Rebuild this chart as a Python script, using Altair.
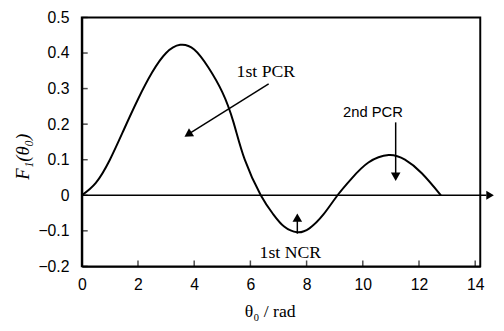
import altair as alt
import pandas as pd

# curve values
theta = [0, 0.5, 1.0, 1.5, 2.0, 2.5, 3.0, 3.5, 4.0, 4.5, 5.0, 5.4, 5.8, 6.37,
         6.8, 7.2, 7.67, 8.1, 8.6, 9.1, 9.6, 10.2, 10.92, 11.5, 12.1, 12.78]
F1 = [0, 0.035, 0.10, 0.185, 0.27, 0.345, 0.40, 0.423, 0.41, 0.36, 0.29, 0.205,
      0.10, 0.0, -0.052, -0.088, -0.104, -0.093, -0.054, 0.0, 0.047, 0.092,
      0.113, 0.10, 0.062, 0.0]

x_ticks = [0, 2, 4, 6, 8, 10, 12, 14]
y_ticks = [-0.2, -0.1, 0, 0.1, 0.2, 0.3, 0.4, 0.5]

label_text = ["1st PCR", "2nd PCR", "1st NCR"]
label_font = ["Liberation Serif", "Liberation Sans", "Liberation Serif"]
label_x = [6.55, 10.36, 7.42]
label_y = [0.346, 0.233, -0.163]

arrow_x = [6.65, 11.17, 7.67]
arrow_y = [0.313, 0.205, -0.108]
arrow_x2 = [3.78, 11.17, 7.67]
arrow_y2 = [0.171, 0.052, -0.063]
arrow_angle = [238, 180, 0]

axis_end_x = [0, 14.4]
axis_head_x = [14.53]

curve_df = pd.DataFrame({"theta": theta, "F1": F1})
label_df = pd.DataFrame({"text": label_text, "font": label_font, "x": label_x, "y": label_y})
arrow_df = pd.DataFrame({"x": arrow_x, "y": arrow_y, "x2": arrow_x2, "y2": arrow_y2, "ang": arrow_angle})
zero_df = pd.DataFrame({"x": [axis_end_x[0]], "x2": [axis_end_x[1]], "y": [0]})
head_df = pd.DataFrame({"x": axis_head_x, "y": [0]})
xt_df = pd.DataFrame({"x": x_ticks, "y": [y_ticks[0]] * len(x_ticks)})
yt_df = pd.DataFrame({"y": y_ticks, "x": [x_ticks[0]] * len(y_ticks)})

xscale = alt.Scale(domain=[0, 14.18], nice=False, zero=False)
yscale = alt.Scale(domain=[-0.2, 0.5], nice=False, zero=False)

xaxis = alt.Axis(values=x_ticks, title="θ₀ / rad", titleX=191, titleY=46,
                 titleBaseline="middle", titleAlign="center",
                 titleFont="Liberation Serif", titleFontSize=18,
                 titleFontWeight="normal", labelPadding=11,
                 labelOverlap=False, labelFlush=False)
yaxis = alt.Axis(values=y_ticks, title="F₁(θ₀)", titleX=-60, titleY=141,
                 titleAngle=270, titleBaseline="middle", titleAlign="center",
                 titleFont="Liberation Serif", titleFontStyle="italic",
                 titleFontSize=19, titleFontWeight="normal", labelPadding=13,
                 labelOverlap=False, labelFlush=False,
                 labelExpr="datum.value == 0 ? '0' : format(datum.value, '.1f')")


def X(field):
    return alt.X(field, scale=xscale, axis=xaxis, title="θ₀ / rad")


def Y(field):
    return alt.Y(field, scale=yscale, axis=yaxis, title="F₁(θ₀)")


curve = alt.Chart(curve_df).mark_line(color="black", strokeWidth=2, interpolate="natural").encode(
    x=X("theta:Q"), y=Y("F1:Q"))

zero_line = alt.Chart(zero_df).mark_rule(color="black", strokeWidth=1.5).encode(
    x=X("x:Q"), x2="x2:Q", y=Y("y:Q"))

zero_head = alt.Chart(head_df).mark_point(shape="triangle-right", filled=True, color="black",
                                          size=80, opacity=1).encode(
    x=X("x:Q"), y=Y("y:Q"))

arrows = alt.Chart(arrow_df).mark_rule(color="black", strokeWidth=1.5).encode(
    x=X("x:Q"), y=Y("y:Q"), x2="x2:Q", y2="y2:Q")

heads = alt.Chart(arrow_df).mark_point(shape="triangle-up", filled=True, color="black",
                                       size=95, opacity=1).encode(
    x=X("x2:Q"), y=Y("y2:Q"), angle=alt.Angle("ang:Q", scale=None))

serif_labels = alt.Chart(label_df).transform_filter("datum.font == 'Liberation Serif'").mark_text(
    font="Liberation Serif", fontSize=18, color="black").encode(
    x=X("x:Q"), y=Y("y:Q"), text="text:N")

sans_labels = alt.Chart(label_df).transform_filter("datum.font == 'Liberation Sans'").mark_text(
    font="Liberation Sans", fontSize=15, color="black").encode(
    x=X("x:Q"), y=Y("y:Q"), text="text:N")

xticks = alt.Chart(xt_df).mark_tick(orient="vertical", size=6, thickness=1.5, color="black",
                                    yOffset=-3).encode(
    x=X("x:Q"), y=Y("y:Q"))

yticks = alt.Chart(yt_df).mark_tick(orient="horizontal", size=6, thickness=1.5, color="black",
                                    xOffset=3).encode(
    y=Y("y:Q"), x=X("x:Q"))

chart = alt.layer(curve, zero_line, zero_head, arrows, heads, serif_labels, sans_labels,
                  xticks, yticks).properties(
    width=405, height=253,
    autosize=alt.AutoSizeParams(type="none"),
    padding={"left": 75, "top": 7, "right": 16, "bottom": 60},
).configure_view(stroke="black", strokeWidth=2).configure_axis(
    domainColor="black", domainWidth=2, ticks=False, grid=False,
    labelFont="Liberation Sans", labelFontSize=16, labelColor="black", titleColor="black",
)

chart.save("out.html", embed_options={"renderer": "svg", "actions": False})
